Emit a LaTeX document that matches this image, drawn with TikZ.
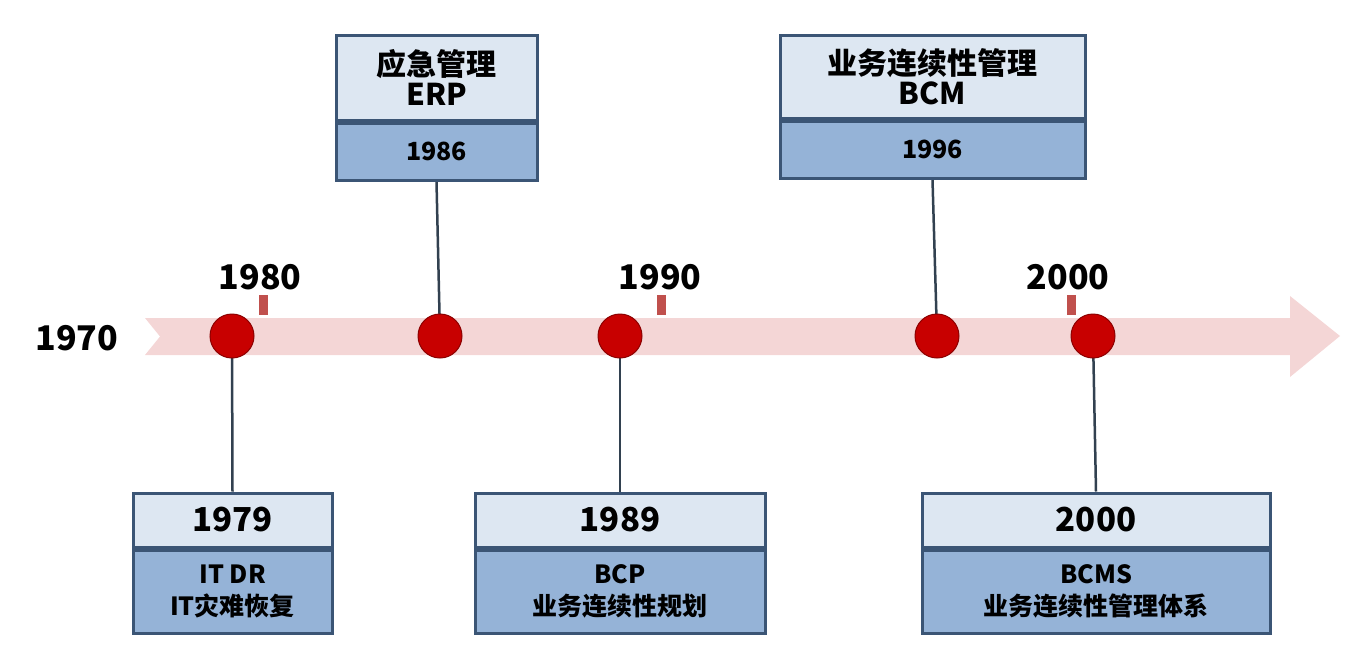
\documentclass[tikz,border=0pt]{standalone}
\usepackage{fontspec}
\setmainfont{Noto Sans CJK SC}
\usetikzlibrary{positioning,backgrounds}
\definecolor{bandpink}{RGB}{244,214,214}
\definecolor{dotred}{RGB}{200,0,0}
\definecolor{tickred}{RGB}{192,80,77}
\definecolor{boxline}{RGB}{59,85,117}
\definecolor{boxlight}{RGB}{221,231,242}
\definecolor{boxblue}{RGB}{149,179,215}
\definecolor{stemgray}{RGB}{50,65,80}
\tikzset{every picture/.style={line width=0.75pt}}
\tikzset{
  dot/.style={circle,fill=dotred,draw=dotred!70!black,line width=1pt,minimum size=44,inner sep=0},
  tickmark/.style={fill=tickred,minimum width=9,minimum height=20,inner sep=0},
  yearlabel/.style={font=\bfseries\fontsize{34}{36}\selectfont,inner sep=0},
  headbox/.style={draw=boxline,line width=3,fill=boxlight,inner sep=0,align=center,font=\bfseries\fontsize{30}{34}\selectfont},
  bodybox/.style={draw=boxline,line width=3,fill=boxblue,inner sep=0,align=center,font=\bfseries\fontsize{25}{32}\selectfont},
  stem/.style={draw=stemgray,line width=2.5}
}
\begin{document}
\begin{tikzpicture}[x=1pt,y=1pt,yscale=-1]
\useasboundingbox (0,0) rectangle (1371,659);
% years on the axis
\node[yearlabel] (y1970) at (77,338) {1970};
\node[yearlabel] (y1980) at (260,277) {1980};
\node[yearlabel] (y1990) at (660,277) {1990};
\node[yearlabel] (y2000) at (1068,277) {2000};
% top boxes
\node[headbox,minimum width=201,minimum height=85] (erpH) at (436.5,77.5) {应急管理\\[-4pt]ERP};
\node[bodybox,minimum width=201,minimum height=57,anchor=north] (erpB) at (erpH.south) {1986};
\node[headbox,minimum width=305,minimum height=83] (bcmH) at (932.5,76.5) {业务连续性管理\\[-4pt]BCM};
\node[bodybox,minimum width=305,minimum height=57,anchor=north] (bcmB) at (bcmH.south) {1996};
% bottom boxes
\node[headbox,minimum width=199,minimum height=54,font=\bfseries\fontsize{33}{36}\selectfont] (drH) at (232.5,520) {1979};
\node[bodybox,minimum width=199,minimum height=83,anchor=north] (drB) at (drH.south) {IT DR\\IT灾难恢复};
\node[headbox,minimum width=290,minimum height=54,font=\bfseries\fontsize{33}{36}\selectfont] (bcpH) at (620,520) {1989};
\node[bodybox,minimum width=290,minimum height=83,anchor=north] (bcpB) at (bcpH.south) {BCP\\业务连续性规划};
\node[headbox,minimum width=348,minimum height=54,font=\bfseries\fontsize{33}{36}\selectfont] (bcmsH) at (1096,520) {2000};
\node[bodybox,minimum width=348,minimum height=83,anchor=north] (bcmsB) at (bcmsH.south) {BCMS\\业务连续性管理体系};
% events
\node[dot] (e1979) at (232,336) {};
\node[dot] (e1986) at (440,336) {};
\node[dot] (e1989) at (620,336) {};
\node[dot] (e1996) at (937,336) {};
\node[dot] (e2000) at (1093,336) {};
\begin{scope}[on background layer]
  \fill[bandpink] (145,318) -- (1290,318) -- (1290,296) -- (1340,336) -- (1290,377) -- (1290,355) -- (145,355) -- (160,336.5) -- cycle;
  \node[tickmark] at (263,305) {};
  \node[tickmark] at (661,305) {};
  \node[tickmark] at (1071,305) {};
  \draw[stem] (e1979.center) -- (drH.north);
  \draw[stem] (e1986.center) -- (erpB.south);
  \draw[stem] (e1989.center) -- (bcpH.north);
  \draw[stem] (e1996.center) -- (bcmB.south);
  \draw[stem] (e2000.center) -- (bcmsH.north);
\end{scope}
\end{tikzpicture}
\end{document}
